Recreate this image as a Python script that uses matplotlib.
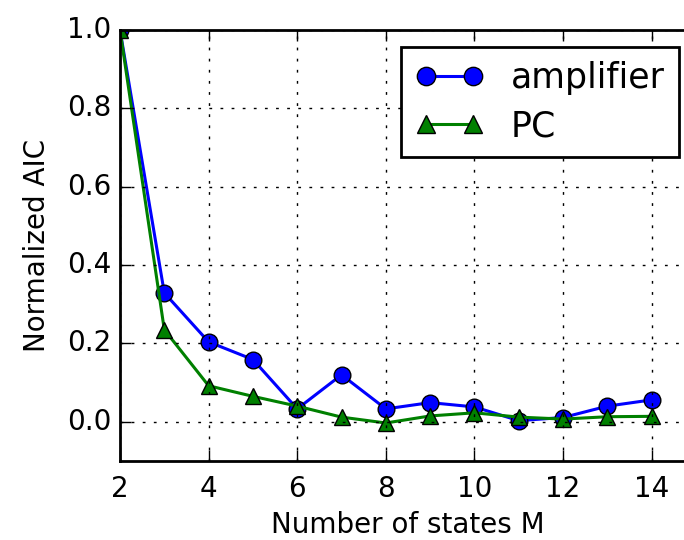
import matplotlib
matplotlib.use("Agg")
import matplotlib.pyplot as plt

# values
states = [2, 3, 4, 5, 6, 7, 8, 9, 10, 11, 12, 13, 14]
amplifier = [1.0, 0.329, 0.204, 0.159, 0.033, 0.12, 0.033, 0.049, 0.038, 0.003, 0.011, 0.04, 0.056]
pc = [1.0, 0.235, 0.092, 0.065, 0.04, 0.012, -0.003, 0.015, 0.023, 0.012, 0.007, 0.013, 0.014]

plt.style.use('classic')
plt.rcParams['figure.facecolor'] = 'white'
plt.rcParams['savefig.facecolor'] = 'white'
plt.rcParams['font.family'] = ['DejaVu Sans']

fig = plt.figure(figsize=(6.84, 5.4), dpi=100)
# right spine sits just past the edge of the figure, as in the cropped reference
ax = fig.add_axes([120 / 684, 79 / 540, 576 / 684, 431 / 540])

ax.plot(states, amplifier, 'b-o', label='amplifier', linewidth=2.2,
        markersize=12, markeredgewidth=1)
ax.plot(states, pc, 'g-^', label='PC', linewidth=2.2,
        markersize=12, markeredgewidth=1)

ax.set_xlim(2, 15)
ax.set_ylim(-0.1, 1.0)
ax.set_xticks([2, 4, 6, 8, 10, 12, 14])
ax.set_yticks([0.0, 0.2, 0.4, 0.6, 0.8, 1.0])
ax.set_xlabel('Number of states M', fontsize=20, labelpad=6)
ax.set_ylabel('Normalized AIC', fontsize=20, labelpad=12)
ax.tick_params(labelsize=20, width=1, length=8)
ax.tick_params(axis='x', pad=10)
ax.tick_params(axis='y', pad=6)
for s in ax.spines.values():
    s.set_linewidth(2)
ax.grid(True, color='k', linestyle=(0, (2, 6)), linewidth=1)

leg = ax.legend(loc='upper right', fontsize=25, numpoints=2,
                handlelength=1.95, markerscale=1.1, labelspacing=0.4)
leg.get_frame().set_linewidth(2)

fig.savefig('out.png', dpi=100)
